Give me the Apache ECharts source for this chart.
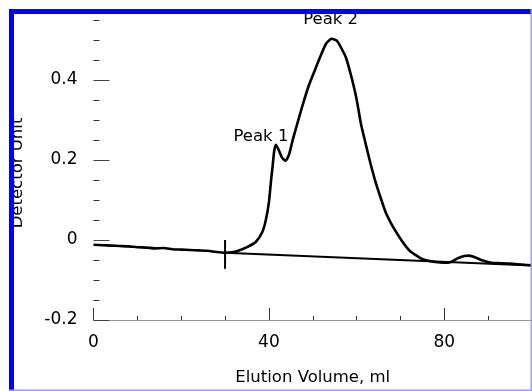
<!DOCTYPE html>
<html>
<head>
<meta charset="utf-8">
<script src="https://cdn.jsdelivr.net/npm/echarts@6/dist/echarts.min.js"></script>
<style>html,body{margin:0;padding:0;background:#fff;}#c{width:532px;height:391px;}</style>
</head>
<body>
<div id="c"></div>
<script>
var traceX = [0, 2, 4, 6, 8, 10, 12, 14, 16, 18, 20, 22, 24, 26, 28, 30, 31.5, 33, 35, 37, 38.5, 39.3, 40, 40.5, 40.9, 41.2, 41.6, 42.2, 43, 43.8, 44.6, 45.5, 46.4, 47.5, 49, 50.5, 51.6, 53, 54.3, 55.5, 56.5, 57.6, 59, 60, 61, 62.1, 63.2, 64.4, 65.5, 66.6, 67.8, 68.9, 70, 71.1, 72.2, 73.4, 74.5, 75.6, 77.9, 80, 81.5, 83, 84.5, 85.7, 87, 88.4, 90.7, 93, 95, 98.4, 100];
var traceY = [-0.012, -0.013, -0.014, -0.015, -0.016, -0.018, -0.019, -0.021, -0.02, -0.023, -0.024, -0.025, -0.026, -0.027, -0.03, -0.032, -0.031, -0.027, -0.018, -0.005, 0.02, 0.05, 0.094, 0.15, 0.19, 0.222, 0.238, 0.226, 0.206, 0.198, 0.214, 0.253, 0.288, 0.33, 0.383, 0.425, 0.455, 0.49, 0.503, 0.498, 0.48, 0.455, 0.4, 0.352, 0.29, 0.239, 0.19, 0.142, 0.105, 0.07, 0.043, 0.022, 0.003, -0.014, -0.028, -0.037, -0.045, -0.05, -0.055, -0.057, -0.055, -0.046, -0.04, -0.039, -0.043, -0.05, -0.057, -0.058, -0.059, -0.062, -0.063];
var baseX = [30, 100];
var baseY = [-0.032, -0.064];
var markX = [30, 30];
var markY = [-0.072, 0.0];
var peakNames = ['Peak 1', 'Peak 2'];
var peakX = [41.6, 54.3];
var peakY = [0.238, 0.503];
var xTicks = [0, 40, 80];
var yTicks = [-0.2, 0, 0.2, 0.4];

function zip(a, b) { return a.map(function (v, i) { return [v, b[i]]; }); }

var FONT = 'DejaVu Sans';
var chart = echarts.init(document.getElementById('c'), null, {renderer: 'canvas'});
chart.setOption({
  animation: false,
  backgroundColor: '#ffffff',
  grid: {left: 93.5, right: -6, top: 0, bottom: 60},
  xAxis: {
    type: 'value', min: 0, max: 100, interval: 40,
    name: 'Elution Volume, ml', nameLocation: 'middle', nameGap: 49,
    nameTextStyle: {fontFamily: FONT, fontSize: 16.5, color: '#000'},
    axisLine: {show: true, onZero: false, lineStyle: {color: '#999', width: 1}},
    axisTick: {show: true, inside: true, length: 12, lineStyle: {color: '#333'}},
    minorTick: {show: true, splitNumber: 4, length: 4, lineStyle: {color: '#333'}},
    axisLabel: {fontFamily: FONT, fontSize: 17, color: '#000', margin: 14, showMaxLabel: false,
      formatter: function (v) { return xTicks.indexOf(v) >= 0 ? String(v) : ''; }},
    splitLine: {show: false}
  },
  yAxis: {
    type: 'value', min: -0.2, max: 0.6, interval: 0.2,
    name: 'Detector Unit', nameLocation: 'middle', nameGap: 67, nameRotate: 90,
    nameTextStyle: {fontFamily: FONT, fontSize: 16.5, color: '#000', padding: [0, 26, 0, 0]},
    axisLine: {show: false, onZero: false},
    axisTick: {show: true, inside: true, length: 16, lineStyle: {color: '#444'}},
    minorTick: {show: true, splitNumber: 4, length: 6, lineStyle: {color: '#333'}},
    axisLabel: {fontFamily: FONT, fontSize: 17, color: '#000', margin: 16, showMaxLabel: false,
      formatter: function (v) {
        var r = Math.round(v * 10) / 10;
        for (var i = 0; i < yTicks.length; i++) { if (Math.abs(yTicks[i] - r) < 1e-9) return String(yTicks[i]); }
        return '';
      }},
    splitLine: {show: false}
  },
  series: [
    {type: 'line', data: zip(traceX, traceY), showSymbol: false, smooth: 0.2,
     lineStyle: {color: '#000', width: 2.6}, z: 3},
    {type: 'line', data: zip(baseX, baseY), showSymbol: false,
     lineStyle: {color: '#000', width: 2}, z: 2},
    {type: 'line', data: zip(markX, markY), showSymbol: false,
     lineStyle: {color: '#000', width: 2}, z: 2},
    {type: 'scatter', symbolSize: 0, z: 4,
     itemStyle: {color: '#000', opacity: 1},
     data: peakNames.map(function (n, i) { return {name: n, value: [peakX[i], peakY[i]]}; }),
     label: {show: true, position: 'top', distance: 0, fontFamily: FONT, fontSize: 16.5, color: '#000', opacity: 1,
       formatter: function (p) { return p.name; }},
     labelLayout: function (p) {
       return p.dataIndex === 0 ? {dx: -15, dy: 0} : {dx: -1, dy: -11};
     }}
  ],
  graphic: [
    {type: 'rect', z: 100, shape: {x: 0, y: 0, width: 532, height: 9}, style: {fill: '#fff'}},
    {type: 'rect', z: 100, shape: {x: 0, y: 0, width: 9, height: 391}, style: {fill: '#fff'}},
    {type: 'rect', z: 101, shape: {x: 9, y: 9, width: 523, height: 5}, style: {fill: '#0000ff'}},
    {type: 'rect', z: 101, shape: {x: 9, y: 9, width: 5, height: 382}, style: {fill: '#0000ff'}},
    {type: 'rect', z: 101, shape: {x: 530.5, y: 9, width: 1.5, height: 382}, style: {fill: '#9a9aff'}},
    {type: 'rect', z: 101, shape: {x: 9, y: 389.5, width: 523, height: 1.5}, style: {fill: '#9a9aff'}}
  ]
});
</script>
</body>
</html>
